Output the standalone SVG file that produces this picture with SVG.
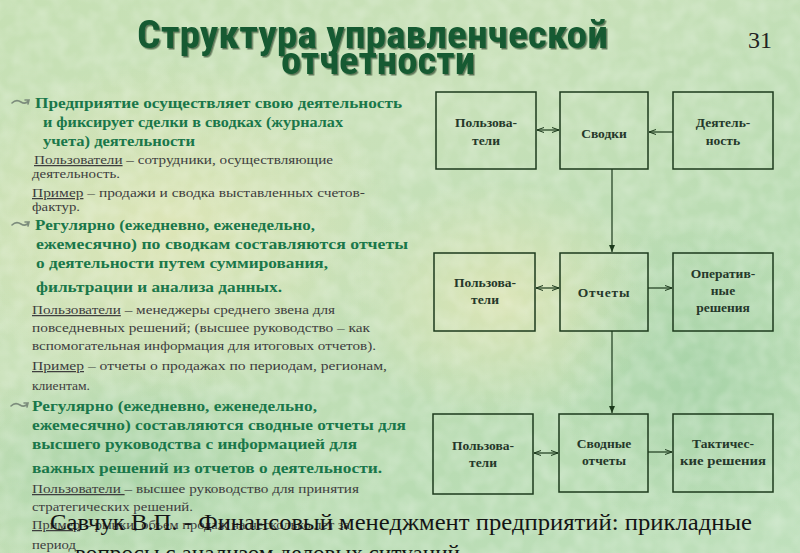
<svg xmlns="http://www.w3.org/2000/svg" width="800" height="553" viewBox="0 0 800 553">
<defs>
<linearGradient id="bg" x1="0" y1="0" x2="1" y2="1">
<stop offset="0" stop-color="#c6e0b4"/>
<stop offset="0.35" stop-color="#c9e1b9"/>
<stop offset="0.7" stop-color="#b9dcb3"/>
<stop offset="1" stop-color="#bfe0bc"/>
</linearGradient>
<radialGradient id="p1" cx="0.5" cy="0.5" r="0.5">
<stop offset="0" stop-color="#e2e6b6" stop-opacity="0.8"/>
<stop offset="1" stop-color="#e2e6b6" stop-opacity="0"/>
</radialGradient>
<radialGradient id="p2" cx="0.5" cy="0.5" r="0.5">
<stop offset="0" stop-color="#9fcfa2" stop-opacity="0.7"/>
<stop offset="1" stop-color="#9fcfa2" stop-opacity="0"/>
</radialGradient>
<filter id="tex" x="0" y="0" width="100%" height="100%">
<feTurbulence type="fractalNoise" baseFrequency="0.06" numOctaves="2" seed="3"/>
<feColorMatrix type="matrix" values="0 0 0 0 1  0 0 0 0 1  0 0 0 0 1  0 0 0 -1.6 1.1"/>
</filter>
<filter id="sh" x="-5%" y="-20%" width="110%" height="140%">
<feDropShadow dx="1.5" dy="1.5" stdDeviation="0.6" flood-color="#0a2a14" flood-opacity="0.6"/>
</filter>
<marker id="ah" markerWidth="8" markerHeight="6" refX="7" refY="3" orient="auto" markerUnits="userSpaceOnUse">
<path d="M0,0.5 L7,3 L0,5.5" fill="none" stroke="#1c3a1c" stroke-width="1"/>
</marker>
<marker id="as" markerWidth="8" markerHeight="6" refX="1" refY="3" orient="auto" markerUnits="userSpaceOnUse">
<path d="M8,0.5 L1,3 L8,5.5" fill="none" stroke="#1c3a1c" stroke-width="1"/>
</marker>
<marker id="af" markerWidth="8" markerHeight="8" refX="7" refY="4" orient="auto" markerUnits="userSpaceOnUse">
<path d="M0,1 L7,4 L0,7 Z" fill="#1c3a1c"/>
</marker>
<path id="bul" d="M0,3 C3,0 6,0 9,2 C12,4 15,3 17,0 M13,0 L17,0 L16,4" fill="none" stroke="#7c8c7c" stroke-width="1.6" stroke-linecap="round"/>
</defs>
<style>
.ttl{font-family:'Roboto Condensed','DejaVu Sans Condensed',sans-serif;font-size:38px;font-weight:bold;fill:#135a30}
.b{font-family:'Liberation Serif',serif;font-weight:bold;font-size:15px;fill:#1a774a}
.s{font-family:'Liberation Serif',serif;font-size:12.5px;fill:#3e3e3e}
.u{text-decoration:underline}
.box{fill:none;stroke:#1c3a1c;stroke-width:1.5}
.bt{font-family:'Liberation Serif',serif;font-weight:bold;font-size:13.5px;fill:#25382a;text-anchor:middle}
.ln{stroke:#1c3a1c;stroke-width:1.2;fill:none}
.cit{font-family:'Liberation Serif',serif;font-size:23px;fill:#141414}
</style>
<rect width="800" height="553" fill="url(#bg)"/>
<ellipse cx="170" cy="230" rx="230" ry="170" fill="url(#p1)"/>
<ellipse cx="500" cy="300" rx="160" ry="120" fill="url(#p1)"/>
<ellipse cx="120" cy="470" rx="200" ry="110" fill="url(#p2)"/>
<ellipse cx="700" cy="380" rx="140" ry="160" fill="url(#p2)"/>
<rect width="800" height="553" filter="url(#tex)" opacity="0.25"/>

<g id="title" filter="url(#sh)">
<text class="ttl" x="137" y="48" textLength="471" lengthAdjust="spacingAndGlyphs">Структура управленческой</text>
<text class="ttl" x="281" y="74" textLength="194" lengthAdjust="spacingAndGlyphs">отчетности</text>
</g>
<text x="748" y="48" font-family="'Liberation Serif',serif" font-size="23" fill="#222" textLength="24" lengthAdjust="spacingAndGlyphs">31</text>

<g id="left-text">
<use href="#bul" x="12" y="100"/>
<text class="b" x="35" y="108" textLength="367" lengthAdjust="spacingAndGlyphs">Предприятие осуществляет свою деятельность</text>
<text class="b" x="43" y="127" textLength="300" lengthAdjust="spacingAndGlyphs">и фиксирует сделки в сводках (журналах</text>
<text class="b" x="43" y="146" textLength="152" lengthAdjust="spacingAndGlyphs">учета) деятельности</text>
<text class="s" x="34" y="164" textLength="299" lengthAdjust="spacingAndGlyphs"><tspan class="u">Пользователи</tspan> – сотрудники, осуществляющие</text>
<text class="s" x="32" y="178" textLength="88" lengthAdjust="spacingAndGlyphs">деятельность.</text>
<text class="s" x="32" y="197" textLength="333" lengthAdjust="spacingAndGlyphs"><tspan class="u">Пример</tspan> – продажи и сводка выставленных счетов-</text>
<text class="s" x="32" y="211" textLength="48" lengthAdjust="spacingAndGlyphs">фактур.</text>

<use href="#bul" x="12" y="222"/>
<text class="b" x="35" y="230" textLength="280" lengthAdjust="spacingAndGlyphs">Регулярно (ежедневно, еженедельно,</text>
<text class="b" x="36" y="249" textLength="372" lengthAdjust="spacingAndGlyphs">ежемесячно) по сводкам составляются   отчеты</text>
<text class="b" x="36" y="268" textLength="292" lengthAdjust="spacingAndGlyphs">о деятельности путем суммирования,</text>
<text class="b" x="36" y="292" textLength="246" lengthAdjust="spacingAndGlyphs">фильтрации и анализа данных.</text>
<text class="s" x="32" y="314" textLength="303" lengthAdjust="spacingAndGlyphs"><tspan class="u">Пользователи</tspan> – менеджеры среднего звена для</text>
<text class="s" x="32" y="332" textLength="338" lengthAdjust="spacingAndGlyphs">повседневных решений; (высшее руководство –  как</text>
<text class="s" x="32" y="350" textLength="344" lengthAdjust="spacingAndGlyphs">вспомогательная информация для итоговых отчетов).</text>
<text class="s" x="32" y="370" textLength="355" lengthAdjust="spacingAndGlyphs"><tspan class="u">Пример</tspan> –  отчеты о продажах по периодам, регионам,</text>
<text class="s" x="32" y="390" textLength="58" lengthAdjust="spacingAndGlyphs">клиентам.</text>

<use href="#bul" x="11" y="403"/>
<text class="b" x="32" y="411" textLength="285" lengthAdjust="spacingAndGlyphs">Регулярно (ежедневно, еженедельно,</text>
<text class="b" x="32" y="430" textLength="374" lengthAdjust="spacingAndGlyphs">ежемесячно) составляются сводные отчеты для</text>
<text class="b" x="32" y="449" textLength="325" lengthAdjust="spacingAndGlyphs">высшего руководства с информацией для</text>
<text class="b" x="32" y="473" textLength="350" lengthAdjust="spacingAndGlyphs">важных решений из отчетов о деятельности.</text>
<text class="s" x="32" y="493" textLength="327" lengthAdjust="spacingAndGlyphs"><tspan class="u">Пользователи </tspan>– высшее руководство для принятия</text>
<text class="s" x="32" y="511" textLength="161" lengthAdjust="spacingAndGlyphs">стратегических решений.</text>
<text class="s" x="32" y="529" textLength="318" lengthAdjust="spacingAndGlyphs"><tspan class="u">Пример</tspan> – рынки, объем продаж на несколько лет за</text>
<text class="s" x="32" y="549" textLength="44" lengthAdjust="spacingAndGlyphs">период</text>
</g>

<g id="connectors">
<line class="ln" x1="537" y1="130" x2="559" y2="130" marker-start="url(#as)" marker-end="url(#ah)"/>
<line class="ln" x1="673" y1="132" x2="649" y2="132" marker-end="url(#ah)"/>
<line class="ln" x1="612" y1="169" x2="612" y2="252" marker-end="url(#af)"/>
<line class="ln" x1="536" y1="288" x2="559" y2="288" marker-start="url(#as)" marker-end="url(#ah)"/>
<line class="ln" x1="648" y1="288" x2="672" y2="288" marker-end="url(#ah)"/>
<line class="ln" x1="612" y1="331" x2="612" y2="413" marker-end="url(#af)"/>
<line class="ln" x1="534" y1="453" x2="558" y2="453" marker-start="url(#as)" marker-end="url(#ah)"/>
<line class="ln" x1="648" y1="452" x2="672" y2="452" marker-end="url(#ah)"/>
</g>

<g id="users1"><rect class="box" x="436" y="92" width="100" height="77"/>
<text class="bt" x="486" y="127">Пользова-</text><text class="bt" x="486" y="145">тели</text></g>
<g id="svodki"><rect class="box" x="560" y="92" width="88" height="77"/>
<text class="bt" x="604" y="138" font-size="18">Сводки</text></g>
<g id="activity"><rect class="box" x="673" y="92" width="100" height="77"/>
<text class="bt" x="723" y="127">Деятель-</text><text class="bt" x="723" y="145">ность</text></g>

<g id="users2"><rect class="box" x="434" y="253" width="101" height="78"/>
<text class="bt" x="485" y="287">Пользова-</text><text class="bt" x="485" y="304">тели</text></g>
<g id="reports"><rect class="box" x="560" y="253" width="88" height="78"/>
<text class="bt" x="604" y="297" font-size="15" letter-spacing="0.8">Отчеты</text></g>
<g id="operative"><rect class="box" x="673" y="253" width="100" height="78"/>
<text class="bt" x="723" y="278">Оператив-</text><text class="bt" x="723" y="295">ные</text><text class="bt" x="723" y="312">решения</text></g>

<g id="users3"><rect class="box" x="433" y="414" width="100" height="80"/>
<text class="bt" x="483" y="450">Пользова-</text><text class="bt" x="483" y="467">тели</text></g>
<g id="summary"><rect class="box" x="559" y="414" width="89" height="78"/>
<text class="bt" x="604" y="448">Сводные</text><text class="bt" x="604" y="465">отчеты</text></g>
<g id="tactical"><rect class="box" x="673" y="414" width="100" height="78"/>
<text class="bt" x="723" y="448">Тактичес-</text><text class="bt" x="723" y="465" textLength="86" lengthAdjust="spacingAndGlyphs">кие решения</text></g>

<g id="citation">
<text class="cit" x="50" y="530" textLength="702" lengthAdjust="spacingAndGlyphs">Савчук В.П. - Финансовый менеджмент предприятий: прикладные</text>
<text class="cit" x="75" y="561" textLength="385" lengthAdjust="spacingAndGlyphs">вопросы с анализом деловых ситуаций</text>
</g>
</svg>
